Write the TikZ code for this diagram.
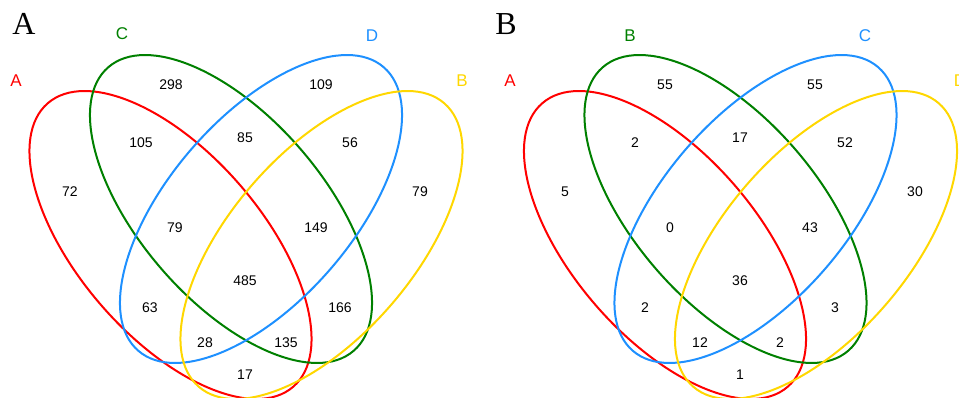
\documentclass[tikz,border=0pt]{standalone}
\usepackage{fontspec}
\setmainfont{Liberation Sans}
\newfontfamily\panelfont{Liberation Serif}
\definecolor{vred}{RGB}{255,0,0}
\definecolor{vgreen}{RGB}{0,128,0}
\definecolor{vblue}{RGB}{30,144,255}
\definecolor{vyellow}{RGB}{255,215,0}
\tikzset{
  ring/.style={line width=2pt},
  num/.style={inner sep=0pt, font=\fontsize{14}{14}\selectfont},
  setlab/.style={inner sep=0pt, font=\fontsize{17}{17}\selectfont},
  panel/.style={inner sep=0pt, font=\panelfont\fontsize{32}{32}\selectfont},
}
\newcommand{\vennquad}[1]{%
  \begin{scope}[xshift=#1pt]
    \draw[ring, vred, rotate around={-49.1:(170.5,153)}] (170.5,153) ellipse [x radius=187.5pt, y radius=91.8pt];
    \draw[ring, vgreen, rotate around={-49.1:(231,189)}] (231,189) ellipse [x radius=187.5pt, y radius=91.8pt];
    \draw[ring, vblue, rotate around={49.1:(261,189)}] (261,189) ellipse [x radius=187.5pt, y radius=91.8pt];
    \draw[ring, vyellow, rotate around={49.1:(321.5,153)}] (321.5,153) ellipse [x radius=187.5pt, y radius=91.8pt];
  \end{scope}}
\begin{document}
\begin{tikzpicture}[x=1pt,y=1pt]
\path[use as bounding box] (0,0) rectangle (959,398);
\clip (0,0) rectangle (959,398);
% Panel A
\vennquad{0}
\node[panel] (pA) at (24,374) {A};
\node[setlab, text=vred] (lA1) at (16,317) {A};
\node[setlab, text=vgreen] (lA2) at (122,364) {C};
\node[setlab, text=vblue] (lA3) at (372,362) {D};
\node[setlab, text=vyellow] (lA4) at (462,317) {B};
\node[num] (a1) at (171,313) {298};
\node[num] (a2) at (321,313) {109};
\node[num] (a3) at (141,255) {105};
\node[num] (a4) at (245,260) {85};
\node[num] (a5) at (350,255) {56};
\node[num] (a6) at (70,206) {72};
\node[num] (a7) at (420,206) {79};
\node[num] (a8) at (175,170) {79};
\node[num] (a9) at (316,170) {149};
\node[num] (a10) at (245,117) {485};
\node[num] (a11) at (150,90) {63};
\node[num] (a12) at (340,90) {166};
\node[num] (a13) at (205,55) {28};
\node[num] (a14) at (286,55) {135};
\node[num] (a15) at (245,23) {17};
% Panel B
\vennquad{494.5}
\node[panel] (pB) at (506,374) {B};
\node[setlab, text=vred] (lB1) at (510,317) {A};
\node[setlab, text=vgreen] (lB2) at (630,362) {B};
\node[setlab, text=vblue] (lB3) at (865,362) {C};
\node[setlab, text=vyellow] (lB4) at (960,317) {D};
\node[num] (b1) at (665,313) {55};
\node[num] (b2) at (815,313) {55};
\node[num] (b3) at (635,255) {2};
\node[num] (b4) at (740,260) {17};
\node[num] (b5) at (845,255) {52};
\node[num] (b6) at (565,206) {5};
\node[num] (b7) at (915,206) {30};
\node[num] (b8) at (670,170) {0};
\node[num] (b9) at (810,170) {43};
\node[num] (b10) at (740,117) {36};
\node[num] (b11) at (645,90) {2};
\node[num] (b12) at (835,90) {3};
\node[num] (b13) at (700,55) {12};
\node[num] (b14) at (780,55) {2};
\node[num] (b15) at (740,23) {1};
\end{tikzpicture}
\end{document}
